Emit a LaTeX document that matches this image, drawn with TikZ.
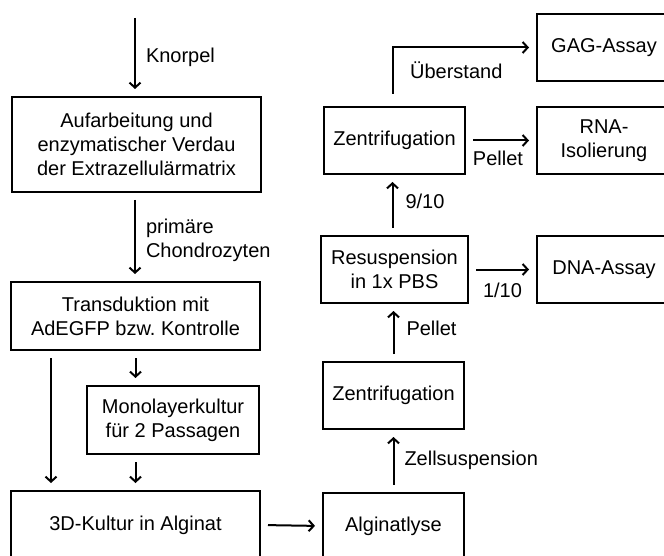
\documentclass[tikz,border=0pt]{standalone}
\usepackage{fontspec}
\setmainfont{Liberation Sans}
\usetikzlibrary{arrows.meta, positioning}

\begin{document}
\begin{tikzpicture}[
    x=1pt, y=-1pt,
    box/.style={draw,line width=2pt,minimum width=141pt,minimum height=67pt,
                align=center,font=\fontsize{20}{24}\selectfont,inner sep=2pt},
    lbl/.style={font=\fontsize{20}{24}\selectfont,align=left,inner sep=1pt},
    arr/.style={-{Straight Barb[length=5pt,width=11pt]},line width=2pt,
                shorten <=7pt,shorten >=7pt}
]
  \useasboundingbox (0,0) rectangle (664,556);

  % Left column
  \node[box,minimum width=249pt,minimum height=95pt] (aufarb) at (136.5,144.5)
    {Aufarbeitung und\\enzymatischer Verdau\\der Extrazellulärmatrix};
  \node[box,minimum width=249pt,minimum height=68pt] (transd) at (135.5,316)
    {Transduktion mit\\AdEGFP bzw.\ Kontrolle};
  \node[box,minimum width=172pt,minimum height=68pt] (mono) at (173,420)
    {Monolayerkultur\\für 2 Passagen};
  \node[box,minimum width=249pt,minimum height=68pt] (kultur) at (135.5,525)
    {3D-Kultur in Alginat};

  % Right column
  \node[box] (alginat) at (393.5,526) {Alginatlyse};
  \node[box] (zentrA) at (393.5,395.5) {Zentrifugation};
  \node[box,minimum width=147pt] (resusp) at (394.5,269.5) {Resuspension\\in 1x PBS};
  \node[box] (zentrB) at (394.5,140.5) {Zentrifugation};

  % Assays
  \node[box,minimum width=134pt] (dna) at (604,269.5) {DNA-Assay};
  \node[box,minimum width=134pt] (rna) at (604,140.5) {RNA-\\Isolierung};
  \node[box,minimum width=134pt] (gag) at (604,47.5) {GAG-Assay};

  % Arrows
  \coordinate (src) at (135,18);
  \draw[arr,shorten <=0pt] (src) -- (src |- aufarb.north)
    node[lbl,midway,right=9pt] {Knorpel};
  \draw[arr] (aufarb.south -| src) -- (src |- transd.north)
    node[lbl,midway,right=9pt,yshift=-3pt] {primäre\\Chondrozyten};
  \draw[arr] ([xshift=-84.5pt]transd.south) -- ([xshift=-84.5pt]transd.south |- kultur.north);
  \draw[arr] (transd.south) -- (transd.south |- mono.north);
  \draw[arr] (mono.south -| transd.south) -- (transd.south |- kultur.north);
  \draw[arr] (kultur.east) -- (alginat.west);
  \draw[arr] (alginat.north) -- (zentrA.south)
    node[lbl,midway,right=9pt] {Zellsuspension};
  \draw[arr] (zentrA.north) -- (zentrA.north |- resusp.south)
    node[lbl,midway,right=11pt,yshift=4pt] {Pellet};
  \draw[arr] (resusp.east) -- (dna.west)
    node[lbl,midway,below=12pt] {1/10};
  \draw[arr] ([xshift=-2pt]resusp.north) -- ([xshift=-2pt]resusp.north |- zentrB.south)
    node[lbl,midway,right=11pt,yshift=4pt] {9/10};
  \draw[arr] (zentrB.east) -- (rna.west)
    node[lbl,midway,below=9pt,xshift=-3pt] {Pellet};
  \draw[arr,shorten <=12pt] ([xshift=-2pt]zentrB.north) |- (gag.west)
    node[lbl,pos=0.75,below=12pt,xshift=-8pt] {Überstand};
\end{tikzpicture}
\end{document}
